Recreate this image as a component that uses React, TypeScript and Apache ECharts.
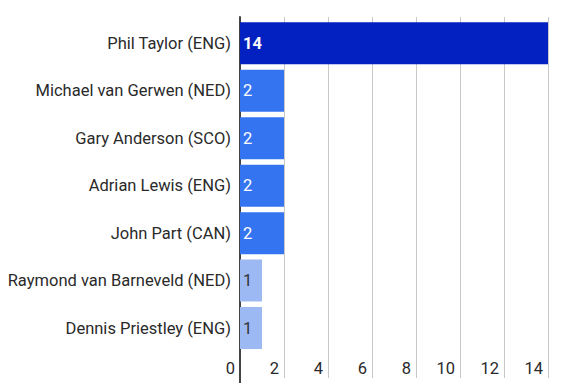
import React, { useEffect, useRef } from "react";
import * as echarts from "echarts";

const players = [
  "Phil Taylor (ENG)",
  "Michael van Gerwen (NED)",
  "Gary Anderson (SCO)",
  "Adrian Lewis (ENG)",
  "John Part (CAN)",
  "Raymond van Barneveld (NED)",
  "Dennis Priestley (ENG)",
];
const titles = [14, 2, 2, 2, 2, 1, 1];
const barColors = ["#0320c0", "#3574f0", "#3574f0", "#3574f0", "#3574f0", "#9cb9f4", "#9cb9f4"];
const labelColors = ["#ffffff", "#ffffff", "#ffffff", "#ffffff", "#ffffff", "#333333", "#333333"];
const labelWeights = ["bold", "normal", "normal", "normal", "normal", "normal", "normal"];
const xMin = 0;
const xMax = 14;
const xStep = 2;

export default function App() {
  const ref = useRef<HTMLDivElement>(null);
  useEffect(() => {
    if (!ref.current) return;
    const chart = echarts.init(ref.current, null, { renderer: "svg" });
    const font = "Roboto, 'Noto Sans', sans-serif";
    chart.setOption({
      animation: false,
      backgroundColor: "#ffffff",
      textStyle: { fontFamily: font },
      grid: [
        { left: 240, right: 34, top: 19.6, bottom: 31.2 },
        { left: 240, right: 34, top: 17, bottom: 5 },
        { left: 240, right: 34, top: 17, bottom: 0 },
      ],
      xAxis: [
        {
          gridIndex: 0,
          type: "value",
          min: xMin,
          max: xMax,
          interval: xStep,
          axisLine: { show: false },
          axisTick: { show: false },
          splitLine: { show: false },
          axisLabel: {
            margin: 8,
            fontSize: 16.5,
            color: "#2a2a2a",
            fontFamily: font,
            align: "right",
            padding: [0, 5, 0, 0],
          },
        },
        {
          gridIndex: 1,
          type: "value",
          min: xMin,
          max: xMax,
          interval: xStep,
          axisLine: { show: false },
          axisTick: { show: false },
          axisLabel: { show: false },
          splitLine: { show: true, lineStyle: { color: "#c8c8c8", width: 1 } },
        },
        {
          gridIndex: 2,
          type: "value",
          min: xMin,
          max: xMax,
          interval: xStep,
          show: false,
        },
      ],
      yAxis: [
        {
          gridIndex: 0,
          type: "category",
          data: players,
          inverse: true,
          axisLine: { show: false },
          axisTick: { show: false },
          axisLabel: {
            margin: 9,
            fontSize: 16.5,
            color: "#2a2a2a",
            fontFamily: font,
          },
        },
        {
          gridIndex: 1,
          type: "value",
          show: false,
        },
        {
          gridIndex: 2,
          type: "value",
          axisLine: { show: true, lineStyle: { color: "#444444", width: 2 } },
          axisTick: { show: false },
          axisLabel: { show: false },
          splitLine: { show: false },
        },
      ],
      series: [
        {
          type: "bar",
          xAxisIndex: 0,
          yAxisIndex: 0,
          barCategoryGap: "11.5%",
          data: titles.map((v, i) => ({
            value: v,
            itemStyle: { color: barColors[i] },
            label: {
              show: true,
              position: "insideLeft",
              distance: 3,
              color: labelColors[i],
              fontWeight: labelWeights[i],
              fontSize: 16.5,
              fontFamily: font,
            },
          })),
        },
      ],
    });
    return () => chart.dispose();
  }, []);
  return <div ref={ref} style={{ width: 582, height: 383, position: "absolute", left: 0, top: 0 }} />;
}
